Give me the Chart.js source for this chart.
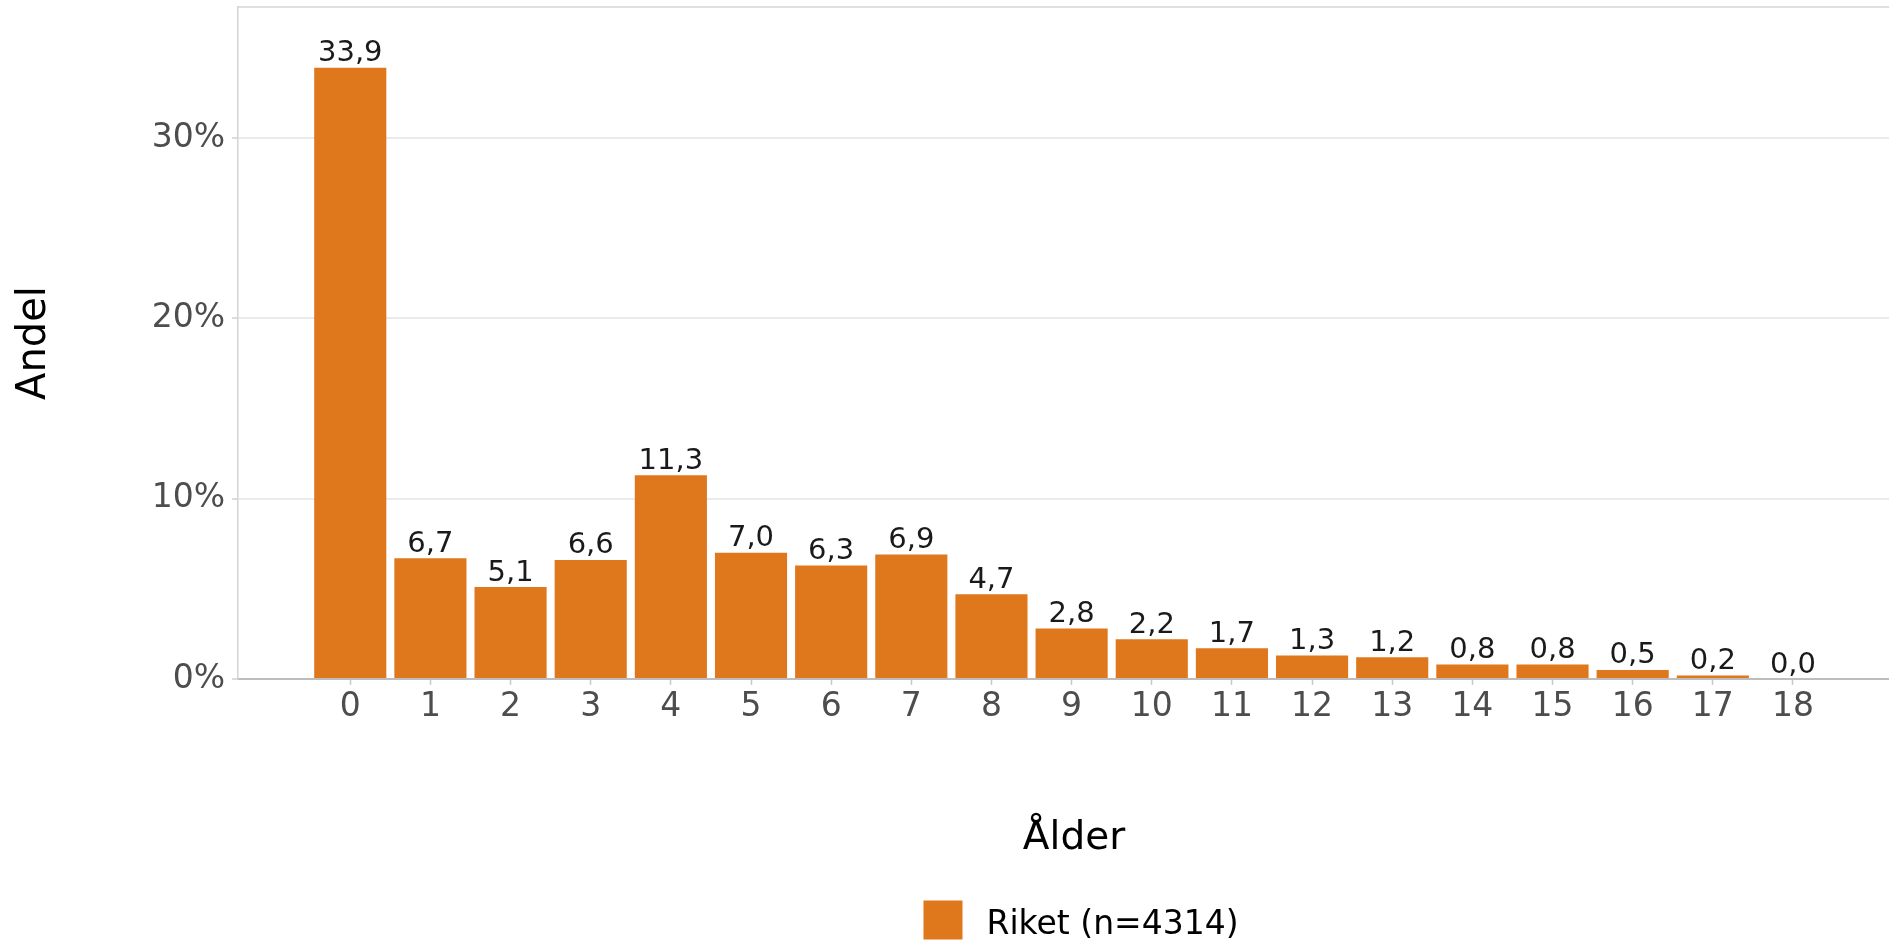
<!DOCTYPE html>
<html>
<head>
<meta charset="utf-8">
<script src="https://cdn.jsdelivr.net/npm/chart.js@4"></script>
<style>
  html, body { margin: 0; padding: 0; background: #fff; overflow: hidden; }
  #wrap { width: 1889px; height: 940px; overflow: hidden; }
</style>
</head>
<body>
<div id="wrap"><canvas id="myChart" width="1910" height="940"></canvas></div>
<script>
  const ages = [0, 1, 2, 3, 4, 5, 6, 7, 8, 9, 10, 11, 12, 13, 14, 15, 16, 17, 18];
  const shares = [33.9, 6.7, 5.1, 6.6, 11.3, 7.0, 6.3, 6.9, 4.7, 2.8, 2.2, 1.7, 1.3, 1.2, 0.8, 0.8, 0.5, 0.2, 0.0];
  const yTicks = [0, 10, 20, 30];
  const seriesLabel = 'Riket (n=4314)';
  const barColor = 'rgb(223, 120, 29)';

  Chart.defaults.font.family = "'DejaVu Sans', sans-serif";

  // value labels above the bars, "33,9"
  const barLabels = {
    id: 'barLabels',
    afterDatasetsDraw(chart) {
      const ctx = chart.ctx;
      const meta = chart.getDatasetMeta(0);
      ctx.save();
      ctx.font = "29px 'DejaVu Sans'";
      ctx.fillStyle = '#1a1a1a';
      ctx.textAlign = 'center';
      ctx.textBaseline = 'alphabetic';
      meta.data.forEach(function(bar, i) {
        ctx.fillText(shares[i].toFixed(1).replace('.', ','), bar.x, bar.y - 6.5);
      });
      ctx.restore();
    }
  };

  // top border of the panel + legend (ggplot-like spacing between key and text)
  const frameAndLegend = {
    id: 'frameAndLegend',
    afterDraw(chart) {
      const a = chart.chartArea;
      const ctx = chart.ctx;
      ctx.save();
      ctx.strokeStyle = '#d4d4d4';
      ctx.lineWidth = 1.5;
      ctx.beginPath();
      ctx.moveTo(a.left, a.top);
      ctx.lineTo(a.right, a.top);
      ctx.stroke();

      ctx.font = "33px 'DejaVu Sans'";
      const tw = ctx.measureText(seriesLabel).width;
      const size = 39, gap = 24;
      const x0 = (a.left + a.right) / 2 - (size + gap + tw) / 2 + 7;
      const y0 = chart.height - 39.5;
      ctx.fillStyle = barColor;
      ctx.fillRect(x0, y0, size, size);
      ctx.fillStyle = '#000';
      ctx.textAlign = 'left';
      ctx.textBaseline = 'alphabetic';
      ctx.fillText(seriesLabel, x0 + size + gap, chart.height - 6);
      ctx.restore();
    }
  };

  const data = {
    datasets: [{
      label: seriesLabel,
      backgroundColor: barColor,
      borderWidth: 0,
      categoryPercentage: 1,
      barPercentage: 0.9,
      data: ages.map(function(a, i) { return { x: a, y: shares[i] }; })
    }]
  };

  const config = {
    type: 'bar',
    data: data,
    plugins: [barLabels, frameAndLegend],
    options: {
      responsive: false,
      devicePixelRatio: 1,
      animation: false,
      layout: { padding: { top: 7, left: 0, right: 0, bottom: 41 } },
      scales: {
        x: {
          type: 'linear',
          offset: false,
          min: -1.4,
          max: 19.46,
          afterBuildTicks: function(axis) {
            axis.ticks = ages.map(function(v) { return { value: v }; });
          },
          ticks: {
            color: '#4d4d4d',
            font: { size: 33 },
            padding: 3,
            maxRotation: 0,
            autoSkip: false,
            callback: function(v) { return String(v); }
          },
          grid: {
            offset: false,
            drawOnChartArea: false,
            drawTicks: true,
            tickLength: 6,
            tickColor: '#c8c8c8',
            tickWidth: 1.5
          },
          border: { color: '#bdbdbd', width: 2 },
          title: {
            display: true,
            text: 'Ålder',
            color: '#000',
            font: { size: 39 },
            padding: { top: 85, bottom: 36.6 }
          }
        },
        y: {
          min: 0,
          max: 37.27,
          afterBuildTicks: function(axis) {
            axis.ticks = yTicks.map(function(v) { return { value: v }; });
          },
          afterFit: function(scale) {
            scale.paddingTop = 0;
          },
          ticks: {
            color: '#4d4d4d',
            font: { size: 33 },
            padding: 7,
            callback: function(v) { return v + '%'; }
          },
          grid: {
            color: function(c) { return c.tick && c.tick.value === 0 ? 'rgba(0,0,0,0)' : '#ebebeb'; },
            lineWidth: 2,
            tickLength: 6,
            tickColor: '#d0d0d0',
            tickWidth: 1.5
          },
          border: { color: '#d4d4d4', width: 1.5 },
          title: {
            display: true,
            text: 'Andel',
            color: '#000',
            font: { size: 40 },
            padding: { top: 11, bottom: 85.7 }
          }
        }
      },
      plugins: {
        legend: { display: false },
        tooltip: { enabled: false }
      }
    }
  };

  const myChart = new Chart(
    document.getElementById('myChart'),
    config
  );
</script>
</body>
</html>
